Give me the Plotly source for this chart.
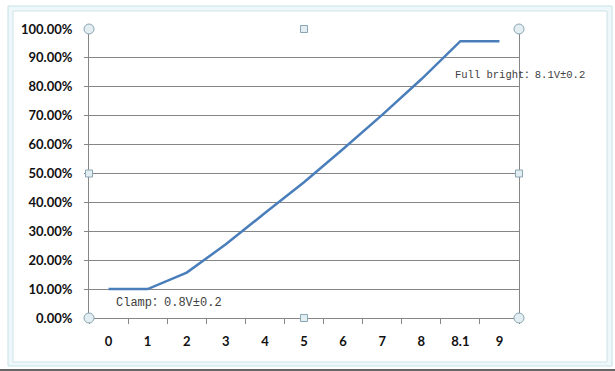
import plotly.graph_objects as go

# ---- data ----
categories = ["0", "1", "2", "3", "4", "5", "6", "7", "8", "8.1", "9"]
brightness_pct = [10.0, 10.0, 15.7, 25.5, 36.3, 47.0, 58.5, 70.3, 82.6, 95.8, 95.8]
y_tick_values = [0, 10, 20, 30, 40, 50, 60, 70, 80, 90, 100]
clamp_label = "Clamp：0.8V±0.2"
full_label = "Full bright：8.1V±0.2"

W, H = 615, 371
L, R, T, B = 89, 519, 29, 318  # plot area in pixels


def px(x):
    return (x - L) / (R - L)


def py(y):
    return (B - y) / (B - T)


fig = go.Figure()
fig.add_trace(go.Scatter(
    x=categories, y=brightness_pct, mode="lines",
    line=dict(color="#4a7ebb", width=2.5),
    hoverinfo="skip", showlegend=False,
))

shapes = []
# outer chart selection frame
shapes.append(dict(type="rect", xref="paper", yref="paper",
                   x0=px(8), x1=px(612), y0=py(366), y1=py(6),
                   fillcolor="#eef7f9", line=dict(color="#c6e2e8", width=1), layer="below"))
shapes.append(dict(type="rect", xref="paper", yref="paper",
                   x0=px(13), x1=px(607), y0=py(362), y1=py(11),
                   fillcolor="#ffffff", line=dict(color="#cfe3e8", width=1), layer="below"))
shapes.append(dict(type="line", xref="paper", yref="paper",
                   x0=px(0), x1=px(615), y0=py(370), y1=py(370),
                   line=dict(color="#333333", width=1.5)))

# plot-area selection handles
for (hx, hy) in [(L, T), (R, T), (L, B), (R, B)]:
    shapes.append(dict(type="circle", xref="paper", yref="paper",
                       x0=px(hx - 5), x1=px(hx + 5), y0=py(hy + 5), y1=py(hy - 5),
                       fillcolor="#e3eef2", line=dict(color="#8aa6b2", width=1)))
for (hx, hy) in [((L + R) / 2, T), ((L + R) / 2, B), (L, (T + B) / 2), (R, (T + B) / 2)]:
    shapes.append(dict(type="rect", xref="paper", yref="paper",
                       x0=px(hx - 3.5), x1=px(hx + 3.5), y0=py(hy + 3.5), y1=py(hy - 3.5),
                       fillcolor="#e3eef2", line=dict(color="#8aa6b2", width=1)))

annotations = [
    dict(x=px(114), y=py(303), xref="paper", yref="paper", text=clamp_label,
         showarrow=False, xanchor="left", yanchor="middle",
         font=dict(family="Liberation Mono, Noto Sans CJK SC", size=12, color="#404040")),
    dict(x=px(453), y=py(75), xref="paper", yref="paper", text=full_label,
         showarrow=False, xanchor="left", yanchor="middle",
         font=dict(family="Liberation Mono, Noto Sans CJK SC", size=10.5, color="#404040")),
]

tick_font = dict(family="Lato", size=13, color="#111111", weight="bold")

fig.update_layout(
    width=W, height=H,
    margin=dict(l=L, r=W - R, t=T, b=H - B, pad=0),
    paper_bgcolor="#ffffff", plot_bgcolor="rgba(0,0,0,0)",
    shapes=shapes, annotations=annotations,
    xaxis=dict(type="category", range=[-0.5, 10.5], showgrid=False,
               showline=True, linecolor="#868686", linewidth=1,
               ticks="outside", ticklen=5, tickcolor="#868686", tickson="boundaries",
               ticklabelstandoff=11, tickfont=tick_font, zeroline=False, fixedrange=True),
    yaxis=dict(range=[0, 100], tickvals=y_tick_values,
               ticktext=[f"{v:.2f}%" for v in y_tick_values],
               showgrid=True, gridcolor="#868686", gridwidth=1,
               showline=True, mirror=True, linecolor="#868686", linewidth=1,
               ticks="outside", ticklen=4, tickcolor="#868686",
               ticklabelstandoff=9, tickfont=tick_font, zeroline=False, fixedrange=True),
)

fig.write_html("out.html", config={"displayModeBar": False},
               post_script="document.body.style.margin='0';")
